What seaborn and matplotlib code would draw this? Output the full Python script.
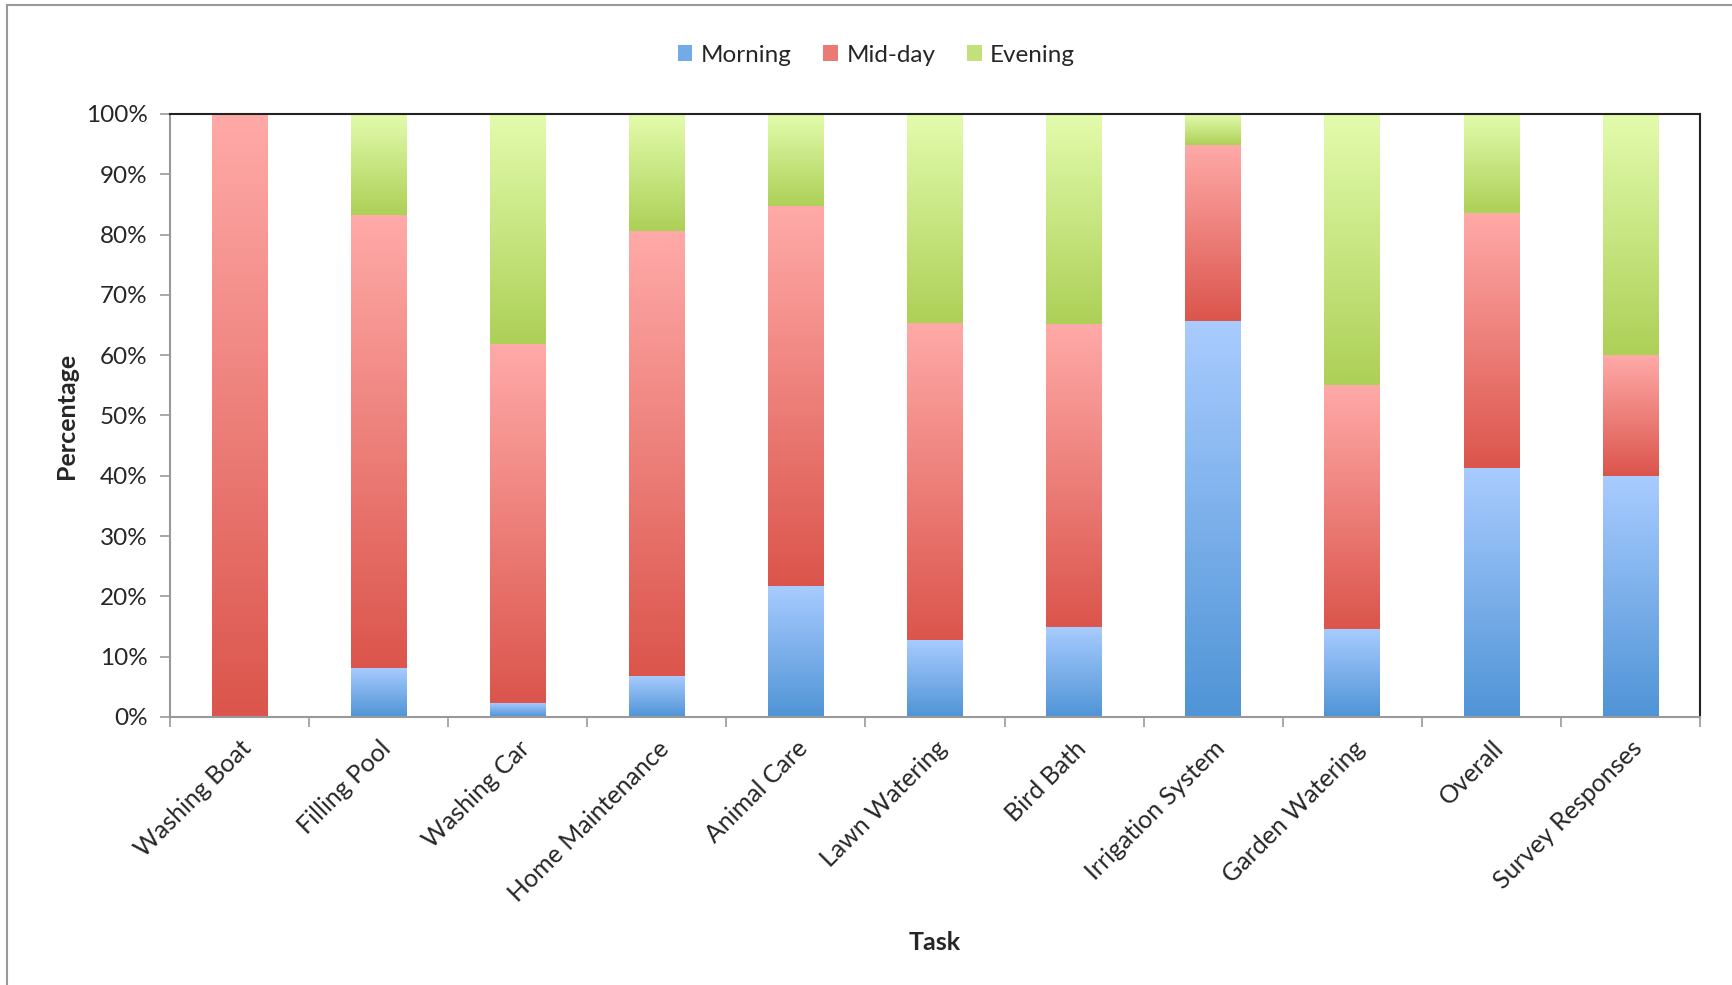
import numpy as np
import pandas as pd
import matplotlib
matplotlib.use("Agg")
import matplotlib.pyplot as plt
import seaborn as sns
from matplotlib.colors import LinearSegmentedColormap
from matplotlib.patches import Rectangle, Patch
from matplotlib.ticker import FuncFormatter, FixedLocator

tasks = ["Washing Boat", "Filling Pool", "Washing Car", "Home Maintenance",
         "Animal Care", "Lawn Watering", "Bird Bath", "Irrigation System",
         "Garden Watering", "Overall", "Survey Responses"]
morning = [0.0, 8.2, 2.4, 6.8, 21.8, 12.8, 15.0, 65.6, 14.6, 41.3, 40.0]
midday = [100.0, 75.0, 59.4, 73.8, 63.0, 52.6, 50.1, 29.3, 40.4, 42.2, 20.0]
evening = [0.0, 16.8, 38.2, 19.4, 15.2, 34.6, 34.9, 5.1, 45.0, 16.5, 40.0]

series = ["Morning", "Mid-day", "Evening"]
grad = {"Morning": ("#4f94d6", "#a9ccff"),
        "Mid-day": ("#db554c", "#ffaaa8"),
        "Evening": ("#add057", "#e3fcad")}
legend_col = {"Morning": "#72abe8", "Mid-day": "#ec7a74", "Evening": "#c4e07a"}

sns.set_style("white")
plt.rcParams["font.family"] = ["Lato", "DejaVu Sans"]

df = pd.DataFrame({"Task": tasks, "Morning": morning, "Mid-day": midday, "Evening": evening})
df["c1"] = df["Morning"]
df["c2"] = df["c1"] + df["Mid-day"]
df["c3"] = df["c2"] + df["Evening"]

fig = plt.figure(figsize=(17.32, 9.85), dpi=100)
ax = fig.add_axes([0.0982, 0.2721, 0.9815 - 0.0982, 0.8843 - 0.2721])

# cumulative bars, tallest first, then gradient over each segment
cums = [("c3", "Evening"), ("c2", "Mid-day"), ("c1", "Morning")]
for col, name in cums:
    sns.barplot(data=df, x="Task", y=col, color=grad[name][0], width=0.4,
                saturation=1, ax=ax, linewidth=0, zorder=2)

lows = {"Morning": np.zeros(len(tasks)), "Mid-day": df["c1"].values, "Evening": df["c2"].values}
highs = {"Morning": df["c1"].values, "Mid-day": df["c2"].values, "Evening": df["c3"].values}
g = np.linspace(0, 1, 256).reshape(-1, 1)
patches = ax.patches[:len(tasks)]
for name in series:
    cmap = LinearSegmentedColormap.from_list(name, list(grad[name]))
    for p, lo, hi in zip(patches, lows[name], highs[name]):
        if hi - lo <= 0:
            continue
        x0 = p.get_x()
        ax.imshow(g, cmap=cmap, origin="lower", aspect="auto", interpolation="bilinear",
                  extent=[x0, x0 + p.get_width(), lo, hi], zorder=3)

ax.set_xlim(-0.5, len(tasks) - 0.5)
ax.set_ylim(0, 100)
ax.yaxis.set_major_locator(FixedLocator(np.arange(0, 101, 10)))
ax.yaxis.set_major_formatter(FuncFormatter(lambda v, _: f"{v:.0f}%"))
ax.tick_params(axis="y", which="major", length=7, width=1.2, color="#999999",
               direction="out", left=True, labelsize=17.5, pad=9)

ax.set_xticks(range(len(tasks)))
ax.set_xticklabels(tasks, rotation=45, ha="right", rotation_mode="anchor", fontsize=18)
ax.set_xticks(np.arange(-0.5, len(tasks), 1), minor=True)
ax.tick_params(axis="x", which="major", length=0, pad=14)
ax.tick_params(axis="x", which="minor", length=7, width=1.2, color="#999999",
               direction="out", bottom=True)

for s in ["left", "bottom"]:
    ax.spines[s].set_color("#999999")
    ax.spines[s].set_linewidth(1.5)
for s in ["top", "right"]:
    ax.spines[s].set_color("#222222")
    ax.spines[s].set_linewidth(1.5)
    ax.spines[s].set_visible(True)
for sp in ax.spines.values():
    sp.set_zorder(5)

ax.set_xlabel("Task", fontsize=18, fontweight="bold")
ax.set_ylabel("Percentage", fontsize=18, fontweight="bold")
ax.xaxis.set_label_coords(0.5, -0.355)
ax.yaxis.set_label_coords(-0.06, 0.5)

handles = [Patch(facecolor=legend_col[n], edgecolor="none") for n in series]
fig.legend(handles, series, loc="center", bbox_to_anchor=(0.506, 0.944), ncol=3,
           frameon=False, fontsize=17.5, handlelength=0.6, handleheight=0.6,
           handletextpad=0.35, columnspacing=1.3)

fig.patches.append(Rectangle((7 / 1732, -0.1), 1.2, 1 - 5 / 985 + 0.1,
                             transform=fig.transFigure, fill=False,
                             edgecolor="#999999", linewidth=1.5))

plt.savefig("out.png", dpi=100)
plt.close()
